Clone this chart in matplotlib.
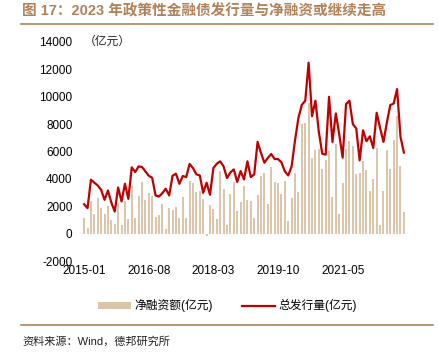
import numpy as np
import pandas as pd
import matplotlib
matplotlib.use('Agg')
import matplotlib.pyplot as plt

# fonts: Arial-like for numbers, CJK fallback for the Chinese text
plt.rcParams['font.family'] = ['Liberation Sans', 'Noto Sans CJK SC']
plt.rcParams['axes.unicode_minus'] = False

# #/#/# Data (亿元) #/#/#
months = pd.date_range('2015-01', periods=95, freq='MS').strftime('%Y-%m').tolist()

net_financing = [1150, 420, 2350, 1470, 2570, 1860, 1420, 2050, 1000, 730,
                 2220, 660, 2420, 1080, 3470, 1170, 2740, 3740, 2470, 3000,
                 2740, 1200, 1390, 2130, 370, 1880, 1740, 1960, 1120, 2670,
                 1170, 3840, 3720, 3060, 3150, 2520, -150, 2080, 1810, 1100,
                 4550, 3230, 610, 2860, 3770, 1660, 2300, 3450, 2470, 2400,
                 1170, 2840, 4230, 4400, 2130, 4890, 3740, 3670, 2930, 3810,
                 950, 2620, 4430, 3030, 8020, 8070, 9560, 5530, 6140, 6190,
                 4690, 5350, 6040, 2710, 6530, 1420, 3720, 6190, 6750, 6430,
                 4330, 4400, 5310, 4670, 3080, 4010, 6280, 660, 3130, 6090,
                 4740, 6870, 8560, 4910, 1610]

total_issuance = [2150, 1860, 3940, 3720, 3520, 3200, 2470, 3150, 2270, 1610,
                  3370, 2350, 3640, 2540, 4840, 4500, 4910, 4870, 4550, 4230,
                  4080, 2790, 2710, 2960, 3280, 2790, 4230, 4380, 3640, 4210,
                  4130, 5090, 4790, 4330, 4250, 2980, 3720, 2840, 4790, 5110,
                  5280, 4910, 4060, 4470, 4690, 3770, 4570, 3960, 5280, 4130,
                  4330, 6700, 5890, 5180, 5530, 5820, 5450, 5450, 5210, 4550,
                  4250, 4910, 6820, 8460, 9410, 9710, 12490, 8580, 9710, 7430,
                  5840, 5770, 10000, 6700, 8780, 7240, 5550, 9460, 9710, 8000,
                  7680, 5350, 7550, 6750, 7110, 6260, 8830, 7730, 6700, 8120,
                  9390, 9510, 10560, 7070, 5920]

y_ticks = [-2000, 0, 2000, 4000, 6000, 8000, 10000, 12000, 14000]

title_text = '图 17：2023 年政策性金融债发行量与净融资或继续走高'
source_text = '资料来源：Wind，德邦研究所'

# #/#/# Plot #/#/#
bar_color = '#dcc6ab'
line_color = '#c00000'
brown = '#b0825a'

fig = plt.figure(figsize=(4.39, 3.64), dpi=100)
ax = fig.add_axes([78 / 439, 103 / 364, 332 / 439, 219 / 364])

x = np.arange(len(months))
bars = ax.bar(x, net_financing, width=0.6, color=bar_color, label='净融资额(亿元)')
line, = ax.plot(x, total_issuance, color=line_color, lw=1.6, label='总发行量(亿元)')

ax.set_xlim(-1.8, 95.8)
ax.set_ylim(-2000, 14000)
ax.set_yticks(y_ticks)
ax.set_yticklabels([str(v) for v in y_ticks], fontsize=8.5)
tick_idx = [0, 19, 38, 57, 76]  # every 19 months, like the original
ax.set_xticks(tick_idx)
ax.set_xticklabels([months[i] for i in tick_idx], fontsize=8.5)
ax.tick_params(length=0, pad=4)
ax.tick_params(axis='x', pad=3)
for s in ax.spines.values():
    s.set_visible(False)

ax.text(0.005, 14000, '（亿元）', fontsize=8.5, va='center', ha='left', color='#222222')

# bars first in the legend, as in the original
ax.legend(handles=[bars, line], loc='center', bbox_to_anchor=(0.45, -0.205), ncol=2,
          frameon=False, fontsize=8.5, handlelength=2.8, handleheight=0.5,
          columnspacing=2.5, handletextpad=0.3)

# title, rules and source note (figure coordinates)
fig.text(22 / 439, 1 - 11 / 364, title_text, fontsize=10.5, fontweight='bold',
         color=brown, va='center', ha='left')
fig.add_artist(plt.Line2D([21 / 439, 433 / 439], [1 - 24 / 364, 1 - 24 / 364],
                          color=brown, lw=1.2))
fig.add_artist(plt.Line2D([21 / 439, 433 / 439], [1 - 325 / 364, 1 - 325 / 364],
                          color=brown, lw=1.2))
fig.text(22 / 439, 1 - 341 / 364, source_text, fontsize=8, color='#222222',
         va='center', ha='left')

fig.savefig('out.png', dpi=100)
